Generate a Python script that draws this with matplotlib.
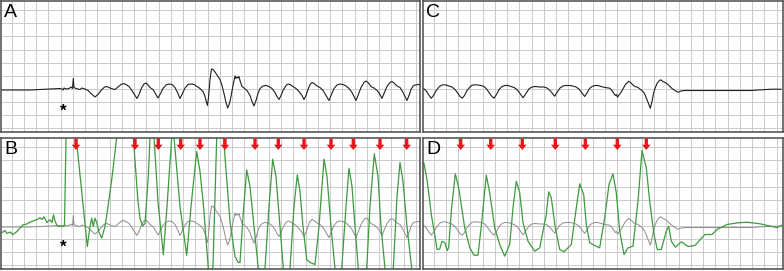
import numpy as np
import matplotlib.pyplot as plt

plt.rcParams['font.family'] = ['Liberation Sans', 'DejaVu Sans']

# surface ECG, left half (black in A, grey overlay in B)
ecg_a = [(2, -0.5), (30, -0.5), (40, 0), (52, 0.5), (60, 1), (62, 0.5), (63, -0.5), (64, 1.5),
         (66, 0.5), (69, 1), (71, 2.5), (72.5, 1), (73.3, 11), (74, 2), (76, 1), (80, 0),
         (82, 1.5), (85, 0.5), (88, -1), (91, -4), (95, -7.5), (98, -5), (101, -1), (104, 2),
         (106, 3), (108, 2.5), (111, 1), (115, 0), (118, 2.5), (121, 5), (123.5, 6), (126, 5),
         (129, 3), (132, -1), (135, -6), (137, -9), (139, -5), (141.5, 1.5), (144, 5.5),
         (146, 6.5), (148, 4.5), (150, 2), (153, 0), (156, -5), (158, -8.5), (160, -5),
         (163, 1), (166, 4.5), (169, 5.5), (172, 5), (175, 2), (178, -4), (180, -9), (182, -5),
         (185, 1.5), (188, 5), (191, 5.5), (194, 5), (197, 3), (200, 1), (203, -2), (205, -7),
         (206, -11), (207.5, -16), (208.5, -8), (210, 10), (211.5, 20.5), (213, 20),
         (215, 17.5), (218, 13), (220, 10), (222, 4), (224, -4), (226, -13), (227.7, -18.5),
         (229.5, -14), (231, -7), (233, 4), (235, 13.5), (236, 11), (237, 12.5), (238, 11.5),
         (239, 13), (240, 9), (242, 3), (244, 1.5), (247, -1), (250, -6), (252, -12),
         (254, -16.5), (256, -11), (258, -4), (260, 1), (263, 3.5), (266, 4), (269, 3),
         (272, 1), (275, -3), (277, -7), (279, -10), (281, -6), (283, -1), (286, 4),
         (288, 5.5), (290, 5), (293, 3), (296, 1), (299, -2), (302, -6), (304, -10), (306, -6),
         (308, 0), (310, 5), (312, 7), (314, 6), (317, 3.5), (320, 2), (323, -1), (326, -6),
         (329, -11), (331, -6), (334, 1), (337, 4.5), (340, 5.5), (343, 5), (346, 3.5),
         (349, 1), (352, -3), (354, -7), (356, -11), (358, -6), (361, 2), (364, 7), (366, 8.5),
         (368, 7), (371, 3), (374, 1.5), (377, -1), (379.5, -4), (382, -9), (384, -4), (387, 3),
         (390, 7), (392, 8), (394, 6.5), (397, 3.5), (400, 2), (402.5, -2), (405, -7),
         (407, -11), (409, -6), (411, 0), (413, 3.5), (415, 4.5), (418, 5), (420, 5)]

# surface ECG, right half (black in C, grey overlay in D)
ecg_c = [(423.5, 1), (426, -1), (428.5, -5), (431.3, -8.7), (433.5, -6), (436.3, -1),
         (439, 2.5), (441, 4), (443, 4.7), (446, 4.5), (449, 3.5), (452, 2.5), (455, 0),
         (458, -4), (460, -7), (462.3, -8.7), (464.5, -6), (467, -1), (470, 2.5), (472, 4.3),
         (474.7, 4.7), (478, 4.5), (481, 4), (484, 3), (487, 0), (490, -4.5), (492, -7),
         (494, -8.7), (496.5, -5), (499, 0), (502, 3), (505, 4), (508, 4), (511, 3), (514, 2),
         (517, 0), (520, -4), (523, -8.3), (526, -4), (529, 0.7), (532, 2.5), (535, 3),
         (540, 2.5), (544, 2.5), (547, 1.5), (550, -1), (552.5, -4), (554.7, -6.7), (557, -3),
         (560, 1.5), (563, 3.5), (566, 4), (569.7, 4), (573, 3.5), (576, 2.5), (579, 0.5),
         (582, -3.5), (584.7, -7), (587, -3.5), (589.5, 1), (592, 3), (595, 4), (598, 4),
         (601, 3), (605, 2), (609.7, 1.3), (612, -1), (614, -4), (615.3, -6), (616.5, -5),
         (617.5, -7.7), (619, -5.5), (621, -3), (623, 0.7), (625.5, 5), (628.7, 8.3),
         (630.5, 7), (634, 3.5), (638, 2), (642, -1), (644.5, -4), (646.5, -9), (648, -12.7),
         (650.3, -18.7), (652, -12), (653.5, -4), (655, 1), (657, 6), (659, 8.5), (660.7, 9.7),
         (663, 8), (666.3, 6.3), (669, 4), (672, 1), (675, -1), (678, -2.7), (681, -1.5),
         (684.7, -1), (751, -1), (771, 0.3), (781, 0.3)]

# intracardiac signal (green), left half
green_b = [(2, -6), (5, -4), (7, -7), (10, -5.5), (13, -8), (17, -5), (20, -1.7), (23, 1.7),
           (27, 2.5), (30, 4.3), (33, 5.5), (37, 7), (40, 8.7), (42, 7), (44, 9.7), (47, 4),
           (50, 6.7), (52, 4), (53.5, 11.7), (55, 5.5), (57, 1), (59, 0), (62, 0.5), (64.5, 0.7),
           (65.5, 60), (66.5, 110), (72, 130), (87.3, -20), (90, 0), (91.7, 8.3), (93.3, 0),
           (95, 8.3), (96.7, 4), (99, -6), (101.7, -11.5), (105, 0), (108, 20), (111.7, 46.7),
           (116.7, 89), (125, 120), (133.3, 89), (138, 25), (140, 8), (142.7, 0.5), (145, 3),
           (148.3, 50), (150, 89), (152, 110), (154, 89), (158, 25), (163.3, -28), (167, 20),
           (171.7, 89), (173, 100), (174, 89), (180, 20), (186.7, -29), (191, 20), (196.7, 75),
           (200, 55), (203.3, 23), (208.3, -42), (210.5, -55), (213, -40), (216.7, 89),
           (220, 120), (223.5, 89), (230, 5), (235, -30), (238.3, -36), (240, -36), (243, 10),
           (246.7, 56.7), (250, 40), (254, 0), (258.3, -42), (261.5, -55), (265, -42), (269, 20),
           (272.7, 67.3), (276, 50), (280, 0), (283.3, -42), (286.5, -55), (290, -42), (294, 20),
           (297.3, 51.7), (300, 35), (303, 0), (306.7, -33), (310, -36), (315, -38), (319, 0),
           (324, 67.3), (327, 50), (331, 0), (335, -42), (338, -55), (341.7, -42), (346, 20),
           (349, 58.3), (352, 40), (355, 0), (358.3, -42), (362, -55), (366.7, -42), (370, 20),
           (374.3, 72.7), (378, 50), (381, 0), (385, -42), (389, -55), (393.3, -42), (397, 30),
           (400, 64), (403, 45), (407, 0), (411.7, -42), (416, -55), (420, -50)]

# intracardiac signal (green), right half
green_d = [(424, 63), (427.3, 45), (431.3, 12), (434.7, -8), (437, -23), (439.7, -22.5),
           (442, -14.7), (444.7, -16), (447.3, -24), (448.7, -21), (451.3, 15.3), (455.3, 52.7),
           (458.7, 38.7), (464.7, -1.3), (469.7, -21), (474, -28.7), (478, -28.7), (481.3, 0.7),
           (486.3, 51.3), (489.7, 33.7), (494.7, -1.3), (499.7, -18), (504.7, -29.7),
           (509.7, -18), (513, 18.7), (516.3, 45.3), (519.7, 33.7), (523, 3.7), (528, -14.7),
           (534.7, -24.7), (539.7, -21.3), (546.3, 12), (548.7, 34.7), (551.3, 28.7),
           (555.3, -1.3), (559.7, -23), (564, -25.3), (571.3, -18), (576.3, 18.7), (579.7, 42.7),
           (583.7, 32), (586.3, 2), (589.7, -16.3), (594.7, -19), (599.7, -21.3), (604.7, 8.7),
           (609, 42), (613, 52.7), (616.3, 33.7), (619.7, -4.7), (624, -28), (628, -21.3),
           (633, -19.7), (638, 25.3), (642, 76), (646.3, 58.7), (649.7, 25.3), (654, -8),
           (657.3, -23), (661.3, -23), (666.3, -4.7), (668.7, 0.3), (671.3, -14.7),
           (675.3, -20.7), (681.3, -15.3), (688, -20), (695, -19), (701.3, -12), (705, -8),
           (712, -8), (717, -3), (727, 2), (738, 3.7), (747, 4.3), (760, 2.7), (773, -0.3),
           (777, -1), (782, 1.3)]

arrows_b = [76, 135, 158.3, 180.7, 200, 225, 255, 278.3, 304, 331, 353.3, 380, 406.7]
arrows_d = [460.7, 490.7, 522.3, 555.3, 585.3, 617.3, 646.3]
star_t = 63.3

W, H = 784, 271
fig = plt.figure(figsize=(W / 100, H / 100), dpi=100)


def panel(x0, x1, y0, y1, t0, t1, label):
    ax = fig.add_axes([x0 / W, 1 - y1 / H, (x1 - x0) / W, (y1 - y0) / H])
    ax.set_xlim(t0, t1)
    ax.set_ylim(-42.5, 88.5)
    ax.set_xticks(np.arange(t0 + 10.5, t1, 12.25))
    ax.set_yticks(np.arange(-38.6, 88, 13.1))
    ax.tick_params(length=0, labelbottom=False, labelleft=False)
    ax.grid(True, color='#cbcbcb', linewidth=0.7)
    ax.set_axisbelow(True)
    for s in ax.spines.values():
        s.set_color('#4a4a4a')
        s.set_linewidth(1.1)
    ax.text(0.008, 0.98, label, transform=ax.transAxes, ha='left', va='top', fontsize=14)
    return ax


def xy(pts):
    return [p[0] for p in pts], [p[1] for p in pts]


def arrows(ax, ts):
    for t in ts:
        ax.annotate('', xy=(t, 76.5), xytext=(t, 88),
                    arrowprops=dict(facecolor='#e8151b', edgecolor='none', width=2.4,
                                    headwidth=6.2, headlength=3.8, shrink=0))


axA = panel(1, 420, 1, 132, 1, 420, 'A')
axC = panel(423, 783, 1, 132, 423, 783, 'C')
axB = panel(1, 420, 138, 269, 1, 420, 'B')
axD = panel(423, 783, 138, 269, 423, 783, 'D')

t, v = xy(ecg_a)
axA.plot(t, v, color='#1e1e1e', lw=0.8)
axB.plot(t, v, color='#8c8c8c', lw=0.7)
t, v = xy(ecg_c)
axC.plot(t, v, color='#1e1e1e', lw=0.8)
axD.plot(t, v, color='#8c8c8c', lw=0.7)

t, v = xy(green_b)
axB.plot(t, v, color='#3d9a3d', lw=0.9)
t, v = xy(green_d)
axD.plot(t, v, color='#3d9a3d', lw=0.9)

arrows(axB, arrows_b)
arrows(axD, arrows_d)

axA.text(star_t, -21.5, '*', ha='center', va='center', fontsize=12, fontweight='bold')
axB.text(star_t, -20.5, '*', ha='center', va='center', fontsize=12, fontweight='bold')

fig.savefig('out.png', dpi=100)
